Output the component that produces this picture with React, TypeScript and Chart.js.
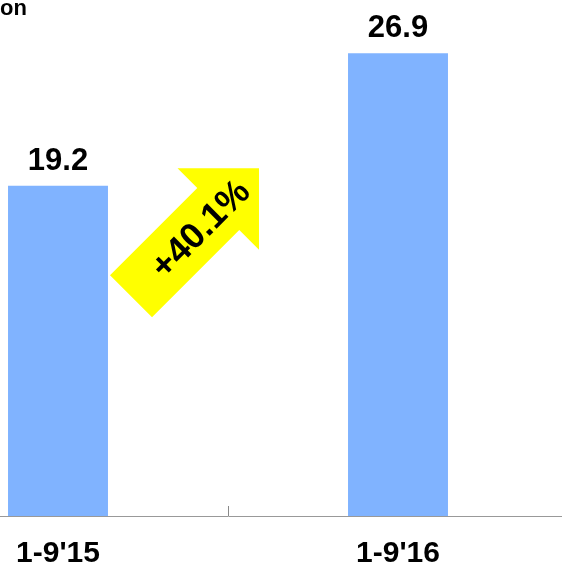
import React, { useEffect, useRef } from "react";
import { Chart, registerables } from "chart.js";

Chart.register(...registerables);

const categories: string[] = ["1-9'15", "1-9'16"];
const values: number[] = [19.2, 26.9];
const growthLabel = "+40.1%";
const unitLabel = "billion";
const yMax = 30;

const FONT = '"Liberation Sans", Arial, Helvetica, sans-serif';

const overlayPlugin = {
  id: "overlay",
  afterDatasetsDraw(chart: any) {
    const ctx = chart.ctx;
    const xs = chart.scales.x;
    const ys = chart.scales.y;
    const meta = chart.getDatasetMeta(0);

    // value labels above bars
    ctx.save();
    ctx.fillStyle = "#000";
    ctx.font = `bold 31px ${FONT}`;
    ctx.textAlign = "center";
    ctx.textBaseline = "alphabetic";
    meta.data.forEach((bar: any, i: number) => {
      ctx.fillText(values[i].toFixed(1), bar.x, bar.y - 16);
    });
    ctx.restore();

    // small tick at the category boundary, pointing up
    const boundary = (xs.getPixelForValue(0) + xs.getPixelForValue(1)) / 2;
    ctx.save();
    ctx.strokeStyle = "#888";
    ctx.lineWidth = 1;
    ctx.beginPath();
    ctx.moveTo(Math.round(boundary) + 0.5, xs.top);
    ctx.lineTo(Math.round(boundary) + 0.5, xs.top - 10);
    ctx.stroke();
    ctx.restore();

    // growth arrow
    const cx = boundary - 33;
    const cy = ys.getPixelForValue(16.5);
    const half = 90.5;
    const headBack = 32.9;
    const headW = 57.6;
    const shaftW = 29.7;
    ctx.save();
    ctx.translate(cx, cy);
    ctx.rotate(-Math.PI / 4);
    ctx.fillStyle = "#FFFF00";
    ctx.beginPath();
    ctx.moveTo(half, 0);
    ctx.lineTo(headBack, -headW);
    ctx.lineTo(headBack, -shaftW);
    ctx.lineTo(-half, -shaftW);
    ctx.lineTo(-half, shaftW);
    ctx.lineTo(headBack, shaftW);
    ctx.lineTo(headBack, headW);
    ctx.closePath();
    ctx.fill();
    ctx.fillStyle = "#000";
    const fs = 36;
    ctx.font = `bold ${fs}px ${FONT}`;
    ctx.textAlign = "center";
    ctx.textBaseline = "alphabetic";
    ctx.fillText(growthLabel, 6, fs * 0.716 / 2);
    ctx.restore();

    // unit label (partly outside the view)
    ctx.save();
    ctx.fillStyle = "#000";
    ctx.font = `bold 22px ${FONT}`;
    ctx.textAlign = "right";
    ctx.textBaseline = "alphabetic";
    ctx.fillText(unitLabel, xs.left + 139, 15);
    ctx.restore();
  },
};

export default function App() {
  const ref = useRef<HTMLCanvasElement | null>(null);

  useEffect(() => {
    if (!ref.current) return;
    const chart = new Chart(ref.current, {
      type: "bar",
      data: {
        labels: categories,
        datasets: [
          {
            data: values,
            backgroundColor: "#80B3FF",
            borderWidth: 0,
            barPercentage: 0.294,
            categoryPercentage: 1,
          },
        ],
      },
      options: {
        responsive: false,
        animation: false,
        layout: { padding: { top: 0, left: 0, right: 0, bottom: 0 } },
        plugins: {
          legend: { display: false },
          tooltip: { enabled: false },
          title: { display: false },
        },
        scales: {
          x: {
            grid: { display: false, drawTicks: false },
            border: { display: true, color: "#999", width: 1 },
            ticks: {
              color: "#000",
              padding: 20,
              font: { family: FONT, size: 30, weight: "bold" },
            },
          },
          y: {
            display: false,
            min: 0,
            max: yMax,
          },
        },
      },
      plugins: [overlayPlugin],
    });
    return () => chart.destroy();
  }, []);

  return (
    <div
      style={{
        position: "absolute",
        left: 0,
        top: 0,
        width: 562,
        height: 570,
        overflow: "hidden",
        background: "#fff",
      }}
    >
      <canvas
        ref={ref}
        width={680}
        height={592}
        style={{ position: "absolute", left: -112, top: 0, width: 680, height: 592 }}
      />
    </div>
  );
}
